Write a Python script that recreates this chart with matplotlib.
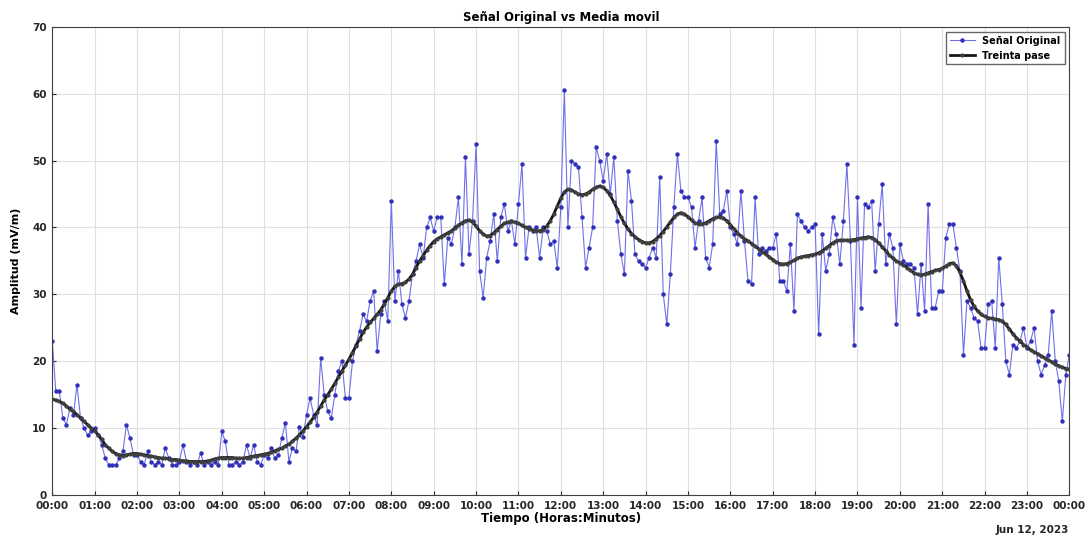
import numpy as np
import pandas as pd
import matplotlib
matplotlib.use("Agg")
import matplotlib.pyplot as plt
import matplotlib.dates as mdates

# original signal, 5-minute samples, one row per hour (00:00 .. 23:55) plus 24:00
senal = [
    23, 15.5, 15.5, 11.5, 10.5, 13, 12, 16.5, 11.5, 10, 9, 9.5,
    10, 9, 7.5, 5.5, 4.5, 4.5, 4.5, 5.5, 6.5, 10.5, 8.5, 6,
    6, 5, 4.5, 6.5, 5, 4.5, 5, 4.5, 7, 5.5, 4.5, 4.5,
    5, 7.5, 5, 4.5, 5, 4.5, 6.3, 4.5, 5, 4.5, 5, 4.5,
    9.5, 8, 4.5, 4.5, 5, 4.5, 5, 7.5, 5.5, 7.5, 5, 4.5,
    6, 5.5, 7, 5.5, 6, 8.5, 10.8, 5, 7, 6.5, 10.2, 8.7,
    12, 14.5, 12, 10.5, 20.5, 15, 12.5, 11.5, 15, 18.5, 20, 14.5,
    14.5, 20, 22.5, 24.5, 27, 26, 29, 30.5, 21.5, 27, 29, 26,
    44, 29, 33.5, 28.5, 26.5, 29, 33, 35, 37.5, 35.5, 40, 41.5,
    39.5, 41.5, 41.5, 31.5, 38.5, 37.5, 40, 44.5, 34.5, 50.5, 36, 41,
    52.5, 33.5, 29.5, 35.5, 38, 42, 35, 41.5, 43.5, 39.5, 41, 37.5,
    43.5, 49.5, 35.5, 40, 39.5, 40, 35.5, 40, 39.5, 37.5, 38, 34,
    43, 60.5, 40, 50, 49.5, 49, 41.5, 34, 37, 40, 52, 50,
    47, 51, 45, 50.5, 41, 36, 33, 48.5, 44, 36, 35, 34.5,
    34, 35.5, 37, 35.5, 47.5, 30, 25.5, 33, 43, 51, 45.5, 44.5,
    44.5, 43, 37, 41, 44.5, 35.5, 34, 37.5, 53, 42, 42.5, 45.5,
    40, 39, 37.5, 45.5, 38, 32, 31.5, 44.5, 36, 37, 36.5, 37,
    37, 39, 32, 32, 30.5, 37.5, 27.5, 42, 41, 40, 39.5, 40,
    40.5, 24, 39, 33.5, 36, 41.5, 39, 34.5, 41, 49.5, 38, 22.5,
    44.5, 28, 43.5, 43, 44, 33.5, 40.5, 46.5, 34.5, 39, 37, 25.5,
    37.5, 35, 34.5, 34.5, 34, 27, 34.5, 27.5, 43.5, 28, 28, 30.5,
    30.5, 38.5, 40.5, 40.5, 37, 33.5, 21, 29, 28, 26.5, 26, 22,
    22, 28.5, 29, 22, 35.5, 28.5, 20, 18, 22.5, 22, 23, 25,
    22, 23, 25, 20, 18, 19.5, 21, 27.5, 20, 17, 11, 18,
    21,
]

# thirty-sample moving average as drawn
media = [
    14.3, 14.2, 14, 13.7, 13.3, 12.8, 12.5, 12, 11.5, 11, 10.5, 10,
    9.6, 9, 8.3, 7.5, 7, 6.5, 6.2, 6, 5.9, 6, 6.1, 6.2,
    6.2, 6.1, 6, 5.9, 5.8, 5.7, 5.6, 5.5, 5.5, 5.4, 5.3, 5.3,
    5.2, 5.1, 5.1, 5, 5, 5, 5, 5, 5.1, 5.2, 5.4, 5.5,
    5.6, 5.6, 5.6, 5.6, 5.5, 5.5, 5.5, 5.6, 5.7, 5.8, 5.9, 6,
    6.1, 6.2, 6.4, 6.6, 6.8, 7, 7.3, 7.6, 8, 8.5, 9, 9.6,
    10.2, 10.9, 11.6, 12.4, 13.3, 14.2, 15, 15.8, 16.7, 17.6, 18.5, 19.4,
    20.3, 21.3, 22.3, 23.3, 24.3, 25.1, 25.8, 26.4, 27, 27.7, 28.5, 29.5,
    30.5, 31.2, 31.5, 31.6, 31.8, 32.3, 33, 34, 35, 35.8, 36.6, 37.3,
    37.9, 38.3, 38.6, 38.9, 39.2, 39.5, 39.9, 40.3, 40.7, 41, 41.1, 40.8,
    40.2, 39.5, 39, 38.7, 38.8, 39.2, 39.7, 40.2, 40.6, 40.8, 40.9, 40.8,
    40.6, 40.3, 40, 39.8, 39.6, 39.5, 39.5, 39.7, 40.2, 41, 42, 43.2,
    44.4, 45.3, 45.7, 45.6, 45.3, 45, 44.9, 45, 45.3, 45.7, 46, 46.2,
    46, 45.5, 44.8, 43.8, 42.7, 41.6, 40.6, 39.8, 39.1, 38.6, 38.2, 37.9,
    37.7, 37.7, 37.9, 38.3, 38.8, 39.4, 40.1, 40.8, 41.5, 42, 42.2, 42,
    41.6, 41.1, 40.7, 40.5, 40.5, 40.7, 41, 41.3, 41.5, 41.6, 41.4, 41,
    40.4, 39.8, 39.2, 38.7, 38.3, 38, 37.6, 37.2, 36.8, 36.4, 36, 35.6,
    35.2, 34.8, 34.6, 34.5, 34.6, 34.8, 35.1, 35.4, 35.6, 35.7, 35.8, 35.9,
    36, 36.2, 36.5, 36.9, 37.3, 37.7, 38, 38.1, 38.1, 38.1, 38.1, 38.2,
    38.3, 38.4, 38.5, 38.6, 38.5, 38.2, 37.7, 37.1, 36.5, 35.9, 35.4, 35,
    34.7, 34.4, 34, 33.6, 33.2, 33, 32.9, 33, 33.2, 33.4, 33.6, 33.7,
    33.9, 34.2, 34.6, 34.7, 34.3, 33.3, 32, 30.5, 29.2, 28.2, 27.5, 27,
    26.7, 26.5, 26.4, 26.3, 26.2, 26, 25.5, 24.8, 24.1, 23.5, 23, 22.5,
    22.1, 21.7, 21.4, 21.1, 20.8, 20.5, 20.2, 19.9, 19.6, 19.3, 19.1, 18.9,
    18.8,
]

tiempo = pd.date_range("2023-06-12 00:00", periods=len(senal), freq="5min")

fig = plt.figure(figsize=(10.89, 5.38), dpi=100)
ax = fig.add_axes([0.048, 0.080, 0.934, 0.870])

ax.plot(tiempo, senal, color="#7070e8", lw=0.8, marker="o", ms=2.2,
        mfc="#3030b8", mec="#3030b8", label="Señal Original")
ax.plot(tiempo, media, color="#151515", lw=2.0, marker="o", ms=2.0,
        mfc="#404040", mec="#404040", label="Treinta pase")

ax.set_ylim(0, 70)
ax.set_yticks(np.arange(0, 71, 10))
ax.set_xlim(tiempo[0], tiempo[-1])
ax.xaxis.set_major_locator(mdates.HourLocator(interval=1))
ax.xaxis.set_major_formatter(mdates.DateFormatter("%H:%M"))

ax.grid(True, color="#e0e0e0", lw=0.8)
ax.set_axisbelow(True)
for s in ax.spines.values():
    s.set_color("#404040")
    s.set_linewidth(0.8)
ax.tick_params(labelsize=7.5, colors="#262626", length=3, direction="in", pad=4)
for lbl in ax.get_xticklabels() + ax.get_yticklabels():
    lbl.set_fontweight("bold")

ax.set_title("Señal Original vs Media movil", fontsize=8.5, fontweight="bold", pad=4)
ax.set_xlabel("Tiempo (Horas:Minutos)", fontsize=8.5, fontweight="bold", labelpad=1)
ax.set_ylabel("Amplitud (mV/m)", fontsize=8, fontweight="bold", labelpad=8)
ax.text(1.0, -0.064, "Jun 12, 2023", transform=ax.transAxes, ha="right", va="top",
        fontsize=7.5, fontweight="bold", color="#262626")

leg = ax.legend(loc="upper right", fontsize=7, frameon=True, fancybox=False,
                edgecolor="#404040", borderpad=0.4, handlelength=2.5)
for t in leg.get_texts():
    t.set_fontweight("bold")

fig.savefig("out.png", dpi=100, facecolor="white")
